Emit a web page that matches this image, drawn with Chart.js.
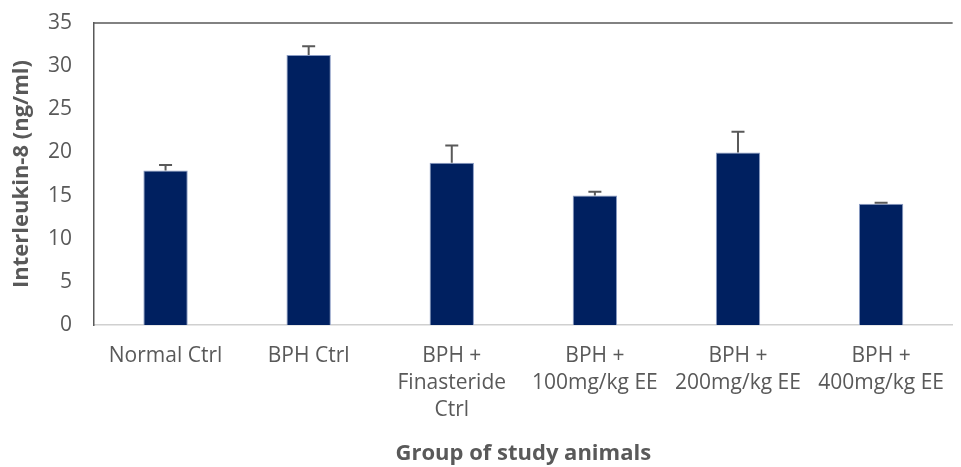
<!DOCTYPE html>
<html>
<head>
<meta charset="utf-8">
<script src="https://cdn.jsdelivr.net/npm/chart.js@4.4.1/dist/chart.umd.min.js"></script>
<style>
  html, body { margin: 0; padding: 0; background: #ffffff; }
  #wrap { width: 961px; height: 467px; }
</style>
</head>
<body>
<div id="wrap"><canvas id="c" width="961" height="467"></canvas></div>
<script>
// Study groups (multi-line axis labels)
const groups = [
  ['Normal Ctrl'],
  ['BPH Ctrl'],
  ['BPH +', 'Finasteride', 'Ctrl'],
  ['BPH +', '100mg/kg EE'],
  ['BPH +', '200mg/kg EE'],
  ['BPH +', '400mg/kg EE']
];
// Interleukin-8 concentration (ng/ml), mean and upper error
const il8Mean = [17.9, 31.3, 18.8, 15.0, 20.0, 14.05];
const il8Err  = [0.65, 1.0, 2.0, 0.45, 2.4, 0.12];
// Value axis ticks
const yTicks = [0, 5, 10, 15, 20, 25, 30, 35];

const textGray = '#595959';

// Upward error bars plus the frame line along the top of the plot
const errorBarPlugin = {
  id: 'errorBars',
  afterDatasetsDraw(chart) {
    const ctx = chart.ctx;
    const y = chart.scales.y;
    const meta = chart.getDatasetMeta(0);
    ctx.save();
    ctx.strokeStyle = textGray;
    ctx.lineWidth = 2;
    meta.data.forEach((bar, i) => {
      const x = bar.x;
      const yTop = y.getPixelForValue(il8Mean[i]);
      const yErr = y.getPixelForValue(il8Mean[i] + il8Err[i]);
      ctx.beginPath();
      ctx.moveTo(x, yTop);
      ctx.lineTo(x, yErr);
      ctx.moveTo(x - 6.5, yErr);
      ctx.lineTo(x + 6.5, yErr);
      ctx.stroke();
    });
    const a = chart.chartArea;
    ctx.strokeStyle = '#595959';
    ctx.lineWidth = 1.5;
    ctx.beginPath();
    ctx.moveTo(a.left, a.top);
    ctx.lineTo(a.right, a.top);
    ctx.stroke();
    ctx.restore();
  }
};

new Chart(document.getElementById('c'), {
  type: 'bar',
  data: {
    labels: groups,
    datasets: [{
      data: il8Mean,
      backgroundColor: '#002060',
      borderColor: '#8a9cc4',
      borderWidth: 1,
      categoryPercentage: 1,
      barPercentage: 0.31
    }]
  },
  options: {
    responsive: false,
    animation: false,
    layout: { padding: { top: 23, right: 0, bottom: 0, left: 0 } },
    plugins: {
      legend: { display: false },
      tooltip: { enabled: false }
    },
    scales: {
      x: {
        afterFit(scale) { scale.height = 142; },
        grid: { display: false, drawTicks: false },
        border: { display: true, color: '#d0d0d0', width: 1.5, dash: [2, 2] },
        ticks: {
          color: textGray,
          font: { family: 'Open Sans', size: 21, lineHeight: 1.3 },
          padding: 17,
          maxRotation: 0,
          autoSkip: false
        },
        title: {
          display: true,
          text: 'Group of study animals',
          color: textGray,
          font: { family: 'Open Sans', size: 22, weight: 'bold' },
          padding: { top: 0, bottom: 0 }
        }
      },
      y: {
        min: 0,
        max: 35,
        afterBuildTicks(scale) {
          scale.ticks = yTicks.map(v => ({ value: v }));
        },
        afterFit(scale) {
          scale.width = 94;
          scale.paddingTop = 0;
          scale.paddingBottom = 0;
        },
        grid: { display: false, drawTicks: false },
        border: { display: true, color: '#595959', width: 1.5 },
        ticks: {
          color: textGray,
          font: { family: 'Open Sans', size: 21 },
          padding: 22
        },
        title: {
          display: true,
          text: 'Interleukin-8 (ng/ml)',
          color: textGray,
          font: { family: 'Open Sans', size: 22, weight: 'bold' },
          padding: { top: 9, bottom: 0 }
        }
      }
    }
  },
  plugins: [errorBarPlugin]
});
</script>
</body>
</html>
